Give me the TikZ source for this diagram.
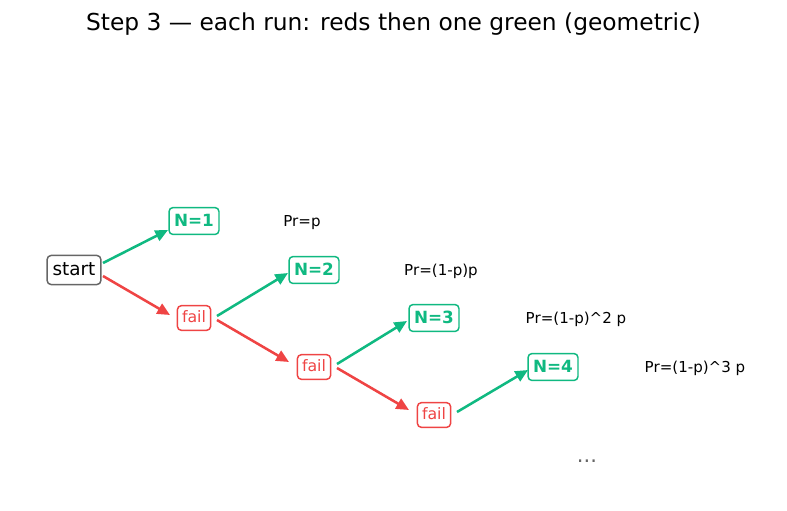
\documentclass[tikz,border=0pt]{standalone}
\usepackage{fontspec}
\setmainfont{DejaVu Sans}
\usetikzlibrary{arrows.meta,calc}
\definecolor{grn}{HTML}{10B981}
\definecolor{rd}{HTML}{EF4444}
\definecolor{gry}{HTML}{666666}
\begin{document}
\begin{tikzpicture}[x=0.75pt,y=-0.75pt,
  box/.style={draw,rounded corners=3pt,line width=1.1pt,fill=white},
  startbox/.style={box,draw=gry,text=black,font=\fontsize{13.8}{15}\selectfont,inner sep=4.1pt,text height=11pt,text depth=2.6pt},
  nbox/.style={box,draw=grn,text=grn,font=\fontsize{12.6}{14}\bfseries\selectfont,inner sep=3.8pt,text height=10.2pt,text depth=2.4pt},
  failbox/.style={box,draw=rd,text=rd,font=\fontsize{11.8}{13}\selectfont,inner sep=3.5pt,text height=9.3pt,text depth=2.2pt},
  prlab/.style={font=\fontsize{11.3}{13}\selectfont,text=black,yshift=-1pt},
  garr/.style={draw=grn,line width=1.9pt,-{Triangle[length=9.5pt,width=8.5pt]}},
  rarr/.style={draw=rd,line width=1.9pt,-{Triangle[length=9.5pt,width=8.5pt]}}]
\useasboundingbox (0,0) rectangle (787,510);
\node[font=\fontsize{17.5}{20}\selectfont] (title) at (393.5,24) {Step 3 — each run: reds then one green (geometric)};
\node[startbox] (s) at (74,270) {start};
\node[nbox] (n1) at (194,221) {N=1};
\node[prlab] (p1) at (302,221) {Pr=p};
\node[failbox] (f1) at (194,318) {fail};
\node[nbox] (n2) at (314,270) {N=2};
\node[prlab] (p2) at (441,270) {Pr=(1-p)p};
\node[failbox] (f2) at (314,367) {fail};
\node[nbox] (n3) at (434,318) {N=3};
\node[prlab] (p3) at (576,318) {Pr=(1-p)\^{}2 p};
\node[failbox] (f3) at (434,415) {fail};
\node[nbox] (n4) at (553,367) {N=4};
\node[prlab] (p4) at (695,367) {Pr=(1-p)\^{}3 p};
\node[font=\fontsize{15.8}{18}\selectfont,text=gry] (dots) at (587,461) {...};
\draw[garr] ($(s)+(29,-7)$) -- ($(n1)+(-26,9)$);
\draw[rarr] ($(s)+(29,6)$) -- ($(f1)+(-24,-3)$);
\draw[garr] ($(f1)+(23,-2)$) -- ($(n2)+(-26,3)$);
\draw[rarr] ($(f1)+(23,2)$) -- ($(f2)+(-25,-5)$);
\draw[garr] ($(f2)+(23,-3)$) -- ($(n3)+(-27,3)$);
\draw[rarr] ($(f2)+(23,1)$) -- ($(f3)+(-25,-5)$);
\draw[garr] ($(f3)+(23,-3)$) -- ($(n4)+(-25,3)$);
\end{tikzpicture}
\end{document}
